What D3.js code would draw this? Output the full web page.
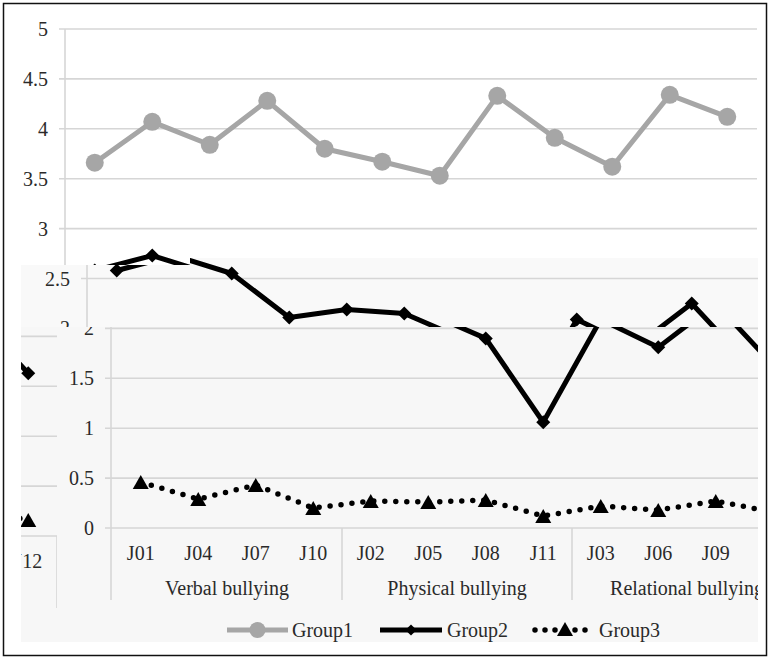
<!DOCTYPE html>
<html><head><meta charset="utf-8">
<script src="https://cdn.jsdelivr.net/npm/d3@7/dist/d3.min.js"></script>
<style>html,body{margin:0;padding:0;background:#fff;}
text{font-family:"Liberation Serif","Times New Roman",Times,"DejaVu Serif",serif;}</style>
</head><body>
<svg id="c" width="771" height="658"></svg>
<script>
const categories = ["J01","J04","J07","J10","J02","J05","J08","J11","J03","J06","J09","J12"];
const groupNames = ["Verbal bullying","Physical bullying","Relational bullying"];
const seriesNames = ["Group1","Group2","Group3"];
const group1 = [3.66,4.07,3.84,4.28,3.80,3.67,3.53,4.33,3.91,3.62,4.34,4.12];
const group2 = [2.58,2.73,2.55,2.11,2.19,2.15,1.90,1.06,2.09,1.81,2.25,1.63];
const group3 = [0.46,0.29,0.43,0.20,0.27,0.26,0.28,0.12,0.22,0.18,0.27,0.16];
const yTickValues = [0,0.5,1,1.5,2,2.5,3,3.5,4,4.5,5];
const yTickLabels = ["0","0.5","1","1.5","2","2.5","3","3.5","4","4.5","5"];

const svg = d3.select("#c");
const TXT = "#2a2a2a";
const GRID = "#d6d6d6";

const x = d3.scaleBand().domain(categories).range([66, 756]).padding(0);
const y = d3.scaleLinear().domain([0, 5]).range([528, 29]);
const cx = c => x(c) + x.bandwidth() / 2;

const diamond = "M0,-7L7,0L0,7L-7,0Z";
const triangle = "M0,-7L8,7L-8,7Z";

function drawChart(g) {
  g.selectAll(".grid").data(yTickValues).join("line")
    .attr("x1", 59).attr("x2", 757)
    .attr("y1", d => y(d)).attr("y2", d => y(d))
    .attr("stroke", GRID).attr("stroke-width", 1.6);
  g.selectAll(".yl").data(yTickValues).join("text")
    .attr("x", 48).attr("y", d => y(d)).attr("dy", "0.35em")
    .attr("text-anchor", "end").attr("font-size", 20)
    .attr("fill", TXT).text((d, i) => yTickLabels[i]);
  const seps = [x.range()[0], x(categories[4]), x(categories[8]), x.range()[1]];
  g.append("line").attr("x1", 65).attr("x2", 65).attr("y1", y(5)).attr("y2", 600)
    .attr("stroke", GRID).attr("stroke-width", 1.6);
  g.selectAll(".sep").data(seps.slice(1)).join("line")
    .attr("x1", d => d).attr("x2", d => d).attr("y1", y(0)).attr("y2", 600)
    .attr("stroke", GRID).attr("stroke-width", 1.6);
  g.selectAll(".cl").data(categories).join("text")
    .attr("x", d => cx(d)).attr("y", 560).attr("text-anchor", "middle")
    .attr("font-size", 20).attr("fill", TXT).text(d => d);
  g.selectAll(".gl").data(groupNames).join("text")
    .attr("x", (d, i) => (seps[i] + seps[i + 1]) / 2).attr("y", 595)
    .attr("text-anchor", "middle").attr("font-size", 20)
    .attr("fill", TXT).text(d => d);

  const line = d3.line().x((d, i) => cx(categories[i])).y(d => y(d));
  g.append("path").attr("d", line(group3)).attr("fill", "none").attr("stroke", "#000")
    .attr("stroke-width", 5.5).attr("stroke-linecap", "round").attr("stroke-dasharray", "0 11");
  g.selectAll(".m3").data(group3).join("path")
    .attr("transform", (d, i) => `translate(${cx(categories[i])},${y(d)})`)
    .attr("d", triangle).attr("fill", "#000");
  g.append("path").attr("d", line(group2)).attr("fill", "none").attr("stroke", "#000")
    .attr("stroke-width", 5).attr("stroke-linejoin", "round");
  g.selectAll(".m2").data(group2).join("path")
    .attr("transform", (d, i) => `translate(${cx(categories[i])},${y(d)})`)
    .attr("d", diamond).attr("fill", "#000");
  g.append("path").attr("d", line(group1)).attr("fill", "none").attr("stroke", "#a6a6a6")
    .attr("stroke-width", 5).attr("stroke-linejoin", "round");
  g.selectAll(".m1").data(group1).join("circle")
    .attr("cx", (d, i) => cx(categories[i])).attr("cy", d => y(d)).attr("r", 9)
    .attr("fill", "#a6a6a6");

  const ly = 630;
  const leg = [
    {x0: 181, x1: 242, tx: 246},
    {x0: 334, x1: 396, tx: 401},
    {x0: 489, x1: 549, tx: 553}
  ];
  g.append("line").attr("x1", leg[0].x0).attr("x2", leg[0].x1).attr("y1", ly).attr("y2", ly)
    .attr("stroke", "#a6a6a6").attr("stroke-width", 5);
  g.append("circle").attr("cx", (leg[0].x0 + leg[0].x1) / 2).attr("cy", ly).attr("r", 8).attr("fill", "#a6a6a6");
  g.append("line").attr("x1", leg[1].x0).attr("x2", leg[1].x1).attr("y1", ly).attr("y2", ly)
    .attr("stroke", "#000").attr("stroke-width", 5);
  g.append("path").attr("transform", `translate(${(leg[1].x0 + leg[1].x1) / 2},${ly}) scale(0.8)`)
    .attr("d", diamond).attr("fill", "#000");
  g.append("line").attr("x1", leg[2].x0).attr("x2", leg[2].x1).attr("y1", ly).attr("y2", ly)
    .attr("stroke", "#000").attr("stroke-width", 5.5).attr("stroke-linecap", "round")
    .attr("stroke-dasharray", "0 10");
  g.append("path").attr("transform", `translate(${(leg[2].x0 + leg[2].x1) / 2},${ly - 1})`)
    .attr("d", triangle).attr("fill", "#000");
  g.selectAll(".lt").data(seriesNames).join("text")
    .attr("x", (d, i) => leg[i].tx).attr("y", ly + 7)
    .attr("font-size", 20).attr("fill", TXT).text(d => d);
}

const defs = svg.append("defs");
function piece(id, clipD, box, bg, dx, dy) {
  defs.append("clipPath").attr("id", id).append("path").attr("d", clipD);
  const outer = svg.append("g").attr("clip-path", `url(#${id})`);
  if (bg) outer.append("path").attr("d", clipD).attr("fill", bg);
  const inner = outer.append("g").attr("transform", `translate(${dx},${dy})`);
  drawChart(inner);
  // drop texts that are fully hidden by this piece's clip
  inner.selectAll("text").each(function () {
    const b = this.getBBox();
    const x0 = b.x + dx, x1 = b.x + b.width + dx, y0 = b.y + dy, y1 = b.y + b.height + dy;
    if (x1 < box[0] || x0 > box[2] || y1 < box[1] || y0 > box[3]) d3.select(this).remove();
  });
}

piece("p1", "M4,4H766V258H190V265H4Z", [4, 4, 766, 265], null, 0, 0);
piece("p2", "M21,265H190V258H758V327H21Z", [21, 258, 758, 327], "#f9f9f9", 22, 0);
piece("p3", "M57,327H758V642H57Z", [57, 327, 758, 642], "#f7f7f7", 46, 0);
piece("p4", "M21,327H57V642H21Z", [21, 327, 57, 642], "#f7f7f7", -699, 8);

svg.append("rect").attr("x", 3.5).attr("y", 3.5).attr("width", 763).attr("height", 652)
  .attr("fill", "none").attr("stroke", "#111").attr("stroke-width", 1.5);
</script>
</body></html>
